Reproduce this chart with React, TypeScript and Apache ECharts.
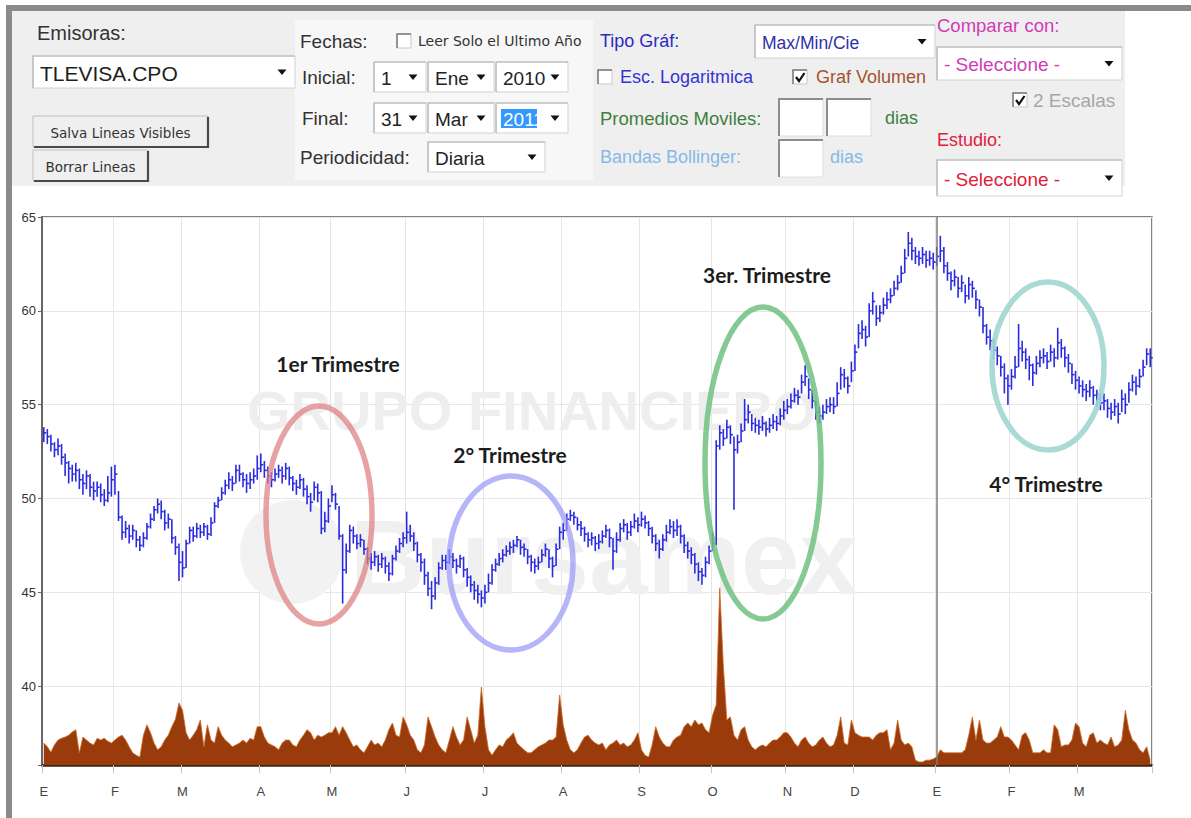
import React, { useEffect, useRef } from "react";
import * as echarts from "echarts";

// ---------- DATA ----------
const monthKeys = ["2010-01","2010-02","2010-03","2010-04","2010-05","2010-06","2010-07","2010-08","2010-09","2010-10","2010-11","2010-12","2011-01","2011-02","2011-03"];
const monthLetters = ["E","F","M","A","M","J","J","A","S","O","N","D","E","F","M"];
const tradingDays = [20,19,22,20,21,22,22,22,20,21,19,23,21,19,21];

const closes = [
  53.5,53.3,52.9,52.6,52.8,52.2,51.9,51.6,51.3,51.5,51.0,50.8,51.2,50.6,50.4,50.6,50.2,49.9,50.3,51.0,
  51.3,49.0,48.2,48.4,48.0,48.3,47.8,47.5,47.9,48.5,48.9,49.4,49.7,49.3,48.7,48.9,47.9,47.4,46.6,
  46.3,47.6,48.3,48.0,48.4,48.2,48.5,48.1,48.7,49.6,49.9,50.3,50.7,51.0,50.8,51.5,51.3,51.0,50.8,51.0,51.2,51.6,
  51.8,51.5,51.2,51.0,51.3,51.5,51.2,51.6,51.1,50.8,50.6,51.0,50.5,50.1,49.8,50.6,50.3,48.4,48.8,49.6,
  50.2,49.7,48.0,46.2,47.2,48.3,48.0,47.6,47.8,47.3,46.8,46.6,46.9,46.5,46.8,46.4,46.0,46.8,47.2,47.6,47.9,
  48.2,48.0,47.6,47.0,46.6,45.9,45.2,44.8,45.5,46.3,46.7,46.6,46.9,46.7,46.4,46.8,46.2,45.8,45.4,45.1,44.9,44.7,
  45.0,45.5,46.2,46.5,46.8,47.0,47.2,47.4,47.5,47.8,47.4,47.3,46.9,46.6,46.4,46.6,47.0,47.3,46.8,46.4,47.3,48.2,
  48.3,48.9,49.1,49.0,48.6,48.4,48.1,47.8,47.9,47.6,47.7,48.0,48.3,47.9,47.2,47.8,48.4,48.6,48.2,48.5,48.8,48.6,
  48.9,48.7,48.4,48.0,47.6,47.3,47.8,48.2,48.5,48.3,48.5,48.0,47.5,47.2,47.0,46.5,46.1,45.9,46.6,47.2,
  47.6,52.8,53.5,53.2,53.8,53.4,52.6,53.0,53.6,54.2,54.6,54.0,53.9,53.8,54.0,53.7,53.9,54.1,54.0,54.4,54.7,
  54.9,55.2,55.5,55.4,56.2,56.5,55.8,55.2,54.6,54.4,54.6,54.9,55.0,54.9,55.6,56.6,56.4,56.0,56.8,
  57.8,58.8,59.0,58.6,60.0,60.5,59.6,59.9,60.3,60.6,60.8,61.2,61.5,62.0,62.8,63.6,63.2,62.9,62.8,63.0,62.7,62.8,62.6,
  62.9,63.2,62.4,62.0,61.6,61.8,61.2,61.5,60.8,61.4,61.2,60.6,60.2,59.2,58.6,58.4,57.9,57.6,57.0,56.4,56.0,
  56.5,57.0,58.0,57.8,57.4,57.1,56.7,57.2,57.5,57.6,57.3,57.8,57.5,58.3,58.0,57.5,57.2,56.6,56.3,
  56.0,55.8,55.7,55.9,55.5,55.3,55.1,55.2,54.8,54.6,54.9,54.5,55.3,55.0,55.8,56.2,56.0,56.5,57.0,57.7,57.5
];

const highs = [
  53.8,53.7,53.4,53.0,53.2,52.9,52.4,52.0,51.8,51.9,51.6,51.3,51.5,51.3,50.9,50.9,50.8,50.5,51.2,51.7,
  51.8,50.4,49.1,48.8,48.6,48.6,48.3,48.0,48.2,48.7,49.2,49.6,50.0,49.9,49.4,49.2,48.9,48.0,47.6,
  47.2,47.8,48.5,48.5,48.7,48.6,48.7,48.6,49.0,49.8,50.1,50.6,51.0,51.4,51.2,51.8,51.8,51.4,51.3,51.4,51.6,52.3,
  52.4,52.0,51.7,51.4,51.6,51.8,51.7,51.9,51.7,51.2,51.0,51.3,51.1,50.7,50.3,50.9,50.8,50.4,49.3,50.0,
  50.7,50.3,49.6,48.1,47.6,48.6,48.5,48.1,48.1,47.8,47.4,47.1,47.2,47.0,47.1,46.9,46.6,47.0,47.5,47.9,48.2,
  49.3,48.6,48.2,47.7,47.1,46.8,46.1,45.6,45.8,46.6,47.0,47.0,47.3,47.1,46.8,47.0,46.9,46.3,45.9,45.6,45.4,45.1,
  45.4,46.0,46.5,46.8,47.1,47.3,47.5,47.7,47.8,48.0,47.8,47.6,47.3,47.0,46.8,46.9,47.3,47.6,47.3,46.9,47.6,48.5,
  48.7,49.2,49.4,49.3,49.0,48.8,48.5,48.2,48.2,48.0,48.1,48.3,48.6,48.4,47.9,48.2,48.7,48.9,48.7,48.8,49.2,49.0,
  49.3,49.1,48.8,48.5,48.1,47.8,48.1,48.6,48.9,48.8,48.9,48.6,48.1,47.7,47.4,47.1,46.6,46.3,46.9,47.5,
  48.2,53.1,53.9,53.7,54.2,53.9,53.3,53.4,54.0,55.3,55.0,54.5,54.3,54.2,54.4,54.1,54.3,54.5,54.4,54.8,55.2,
  55.3,55.6,55.9,55.8,56.6,57.1,56.4,55.8,55.2,54.9,55.0,55.3,55.4,55.4,56.2,57.0,56.9,56.5,57.3,
  58.2,59.3,59.5,59.2,60.4,61.0,60.3,60.3,60.7,61.0,61.2,61.6,61.9,62.4,63.3,64.2,63.9,63.4,63.2,63.4,63.2,63.2,63.1,
  63.4,64.0,63.4,62.6,62.1,62.2,61.8,61.9,61.4,61.8,61.6,61.1,60.6,60.2,59.3,59.0,58.5,58.1,57.6,57.2,56.6,
  56.9,57.6,59.3,58.4,58.0,57.6,57.2,57.6,57.9,58.0,57.8,58.2,58.0,59.1,58.5,58.1,57.7,57.2,56.8,
  56.5,56.3,56.1,56.3,56.0,55.8,55.6,55.6,55.3,55.1,55.3,55.1,55.8,55.6,56.2,56.6,56.5,56.9,57.4,58.0,58.0
];

const lows = [
  53.0,52.9,52.5,52.2,52.3,51.8,51.2,50.8,50.9,50.9,50.5,50.2,50.5,50.1,49.9,50.1,49.8,49.6,49.8,50.1,
  50.2,48.8,47.8,47.9,47.6,47.8,47.4,47.2,47.4,47.8,48.4,48.8,49.2,48.9,48.3,48.4,47.6,47.0,45.6,
  45.8,46.3,47.6,47.7,47.9,47.9,48.0,47.8,48.0,48.7,49.5,49.9,50.2,50.5,50.4,50.8,50.9,50.6,50.3,50.5,50.8,51.0,
  51.4,51.1,50.8,50.6,50.9,51.1,50.8,51.0,50.7,50.4,50.2,50.5,50.1,49.7,49.3,49.9,49.8,48.1,48.2,48.7,
  49.8,49.4,47.8,44.4,46.0,47.1,47.6,47.3,47.4,47.0,46.5,46.2,46.4,46.1,46.3,46.0,45.6,45.9,46.7,47.1,47.4,
  47.6,47.7,47.2,46.6,46.1,45.4,44.8,44.1,44.6,45.4,46.2,46.2,46.5,46.3,46.0,46.3,45.8,45.3,45.0,44.6,44.4,44.2,
  44.4,45.0,45.4,46.1,46.4,46.6,46.9,47.0,47.1,47.4,47.0,46.9,46.5,46.1,46.0,46.2,46.6,46.9,46.3,45.8,46.4,47.3,
  47.8,48.3,48.8,48.6,48.3,48.0,47.7,47.4,47.5,47.2,47.3,47.6,47.9,47.4,46.2,47.1,47.7,48.2,47.8,48.0,48.4,48.2,
  48.5,48.4,48.0,47.6,47.2,46.8,47.2,47.7,48.1,47.9,48.0,47.6,47.1,46.8,46.5,46.0,45.6,45.4,45.8,46.5,
  47.2,47.5,52.6,52.8,53.2,52.9,49.4,52.4,53.0,53.6,54.0,53.6,53.5,53.4,53.6,53.3,53.5,53.7,53.6,53.9,54.2,
  54.5,54.8,55.1,55.0,55.6,56.0,55.3,54.8,54.2,54.0,54.2,54.5,54.6,54.5,54.9,55.8,55.9,55.6,56.2,
  56.8,58.0,58.5,58.1,58.6,59.8,59.2,59.4,59.8,60.1,60.4,60.8,61.1,61.5,62.0,62.9,62.7,62.5,62.4,62.5,62.3,62.4,62.2,
  62.4,62.6,62.0,61.6,61.1,61.3,60.7,61.0,60.4,60.6,60.7,60.1,59.7,58.8,58.2,57.9,57.4,57.1,56.5,55.6,55.0,
  55.8,56.4,57.0,57.3,56.9,56.3,56.0,56.6,57.0,57.2,56.9,57.3,57.0,57.4,57.5,57.0,56.7,56.1,55.8,
  55.6,55.4,55.2,55.4,55.0,54.9,54.7,54.7,54.3,54.2,54.4,54.0,54.6,54.5,55.1,55.7,55.5,55.9,56.5,57.1,57.0
];

// volume, millions of shares
const volumes = [
  3.6,3.0,2.1,3.3,4.1,4.4,4.6,4.9,5.4,5.8,2.0,4.6,4.1,3.6,3.3,4.4,4.1,4.4,3.9,3.6,
  4.1,4.6,4.9,4.1,3.0,2.0,1.6,1.3,4.9,6.6,5.3,3.6,2.5,3.0,4.1,4.9,6.3,7.5,10.2,
  9.0,5.3,4.1,4.9,5.8,7.4,3.0,6.6,4.1,3.6,6.3,4.9,4.1,3.6,3.0,3.3,3.6,4.1,3.6,4.4,4.1,6.3,
  6.3,4.6,3.6,3.3,3.0,2.5,3.6,4.1,4.1,3.3,3.0,4.1,4.9,5.8,5.3,4.1,4.9,4.6,4.9,5.3,
  5.3,6.3,4.9,6.3,5.3,4.1,3.0,3.3,2.5,2.0,3.0,4.1,3.3,3.6,3.0,4.1,5.8,6.9,4.9,4.6,7.9,
  6.6,4.9,4.1,2.5,2.0,3.3,7.9,6.3,4.6,3.3,2.5,2.0,4.1,6.3,4.6,3.3,4.1,7.9,5.8,3.6,4.9,12.8,
  6.3,2.5,1.6,2.5,3.3,3.0,4.1,4.6,5.3,3.6,3.0,2.5,2.0,2.0,2.5,3.0,3.3,3.6,4.1,4.1,4.6,11.5,
  6.6,4.1,2.5,2.0,2.5,3.6,4.6,4.9,4.1,3.6,3.3,3.6,2.5,3.3,3.6,4.1,3.3,3.6,3.0,3.3,4.1,5.3,
  2.5,1.6,1.3,3.3,6.3,4.6,3.6,3.0,3.0,4.1,4.6,4.9,6.3,6.9,6.3,7.4,6.6,6.9,5.8,5.3,
  8.2,9.9,29.1,16.4,7.4,7.9,4.9,4.1,5.8,6.3,4.1,3.0,2.5,3.0,3.3,3.0,3.6,4.1,4.1,4.6,5.3,
  5.3,4.6,3.6,3.0,4.1,4.6,3.6,3.0,3.3,4.1,4.6,3.6,3.0,3.3,4.9,7.9,3.6,3.3,7.4,
  5.3,4.9,4.6,4.6,4.6,4.1,4.9,5.3,5.3,5.8,2.5,3.6,7.4,4.1,3.3,3.6,3.0,0.8,0.5,0.5,0.8,0.8,1.0,
  1.3,2.5,2.0,2.0,2.0,2.0,2.0,2.0,2.5,4.9,7.9,4.1,7.4,4.1,3.6,3.6,4.1,4.6,6.3,4.6,4.6,
  4.1,3.3,2.5,4.9,5.3,4.1,2.0,2.0,2.0,2.5,2.0,2.0,6.6,5.8,3.0,3.3,3.3,4.1,6.9,
  6.3,3.6,3.0,4.9,5.3,3.6,4.1,3.6,3.3,4.6,3.0,3.3,4.1,9.0,5.8,4.1,3.6,2.5,2.0,3.0,0.8
];

const quarterLabels = ["1er Trimestre", "2° Trimestre", "3er. Trimestre", "4° Trimestre"];

// ---------- HELPERS (layout of the control panel) ----------
const ARIAL = '"Liberation Sans", Arial, sans-serif';
const VERD = '"DejaVu Sans", Verdana, sans-serif';
const LATO = 'Lato, "Open Sans", sans-serif';

function txt(x: number, y: number, text: string, size: number, color = "#333", family = ARIAL, extra: any = {}) {
  return {
    type: "text", x, y, z: 20,
    style: {
      text, fill: color, fontSize: size, fontFamily: family,
      align: extra.align || "left", textAlign: extra.align || "left",
      verticalAlign: "middle", textVerticalAlign: "middle",
      fontWeight: extra.weight || "normal",
    },
  };
}
function rect(x: number, y: number, w: number, h: number, fill: string, stroke?: string, lw = 1, z = 10) {
  return { type: "rect", z, shape: { x, y, width: w, height: h }, style: { fill, stroke: stroke || null, lineWidth: lw } };
}
function pl(points: number[][], stroke: string, lw = 1, z = 12) {
  return { type: "polyline", z, shape: { points }, style: { stroke, lineWidth: lw, fill: null } };
}
function arrow(x: number, y: number) {
  return { type: "polygon", z: 15, shape: { points: [[x - 4.5, y - 2.5], [x + 4.5, y - 2.5], [x, y + 3]] }, style: { fill: "#111" } };
}
function dropdown(x: number, y: number, w: number, h: number, label: string, color = "#222", size = 19, hl = false) {
  const els: any[] = [
    rect(x, y, w, h, "#ffffff", "#d2d2d2", 1),
    pl([[x, y + h], [x, y], [x + w, y]], "#b4b4b4", 1.2),
  ];
  if (hl) els.push(rect(x + 5, y + 6, 36, h - 11, "#3399ff", undefined, 1, 13));
  els.push(txt(x + 7, y + h / 2 + 1, label, size, hl ? "#ffffff" : color));
  els.push(arrow(x + w - 13, y + h / 2));
  return els;
}
function button(x: number, y: number, w: number, h: number, label: string) {
  return [
    rect(x, y, w, h, "#efefef", "#c0c0c0", 1),
    pl([[x + 1, y + h], [x + w, y + h], [x + w, y + 1]], "#4a4a4a", 2.2),
    txt(x + w / 2, y + h / 2 + 1, label, 13.5, "#333", VERD, { align: "center" }),
  ];
}
function checkbox(x: number, y: number, checked: boolean) {
  const els: any[] = [
    rect(x, y, 14, 14, "#ffffff", "#c8c8c8", 1),
    pl([[x, y + 14], [x, y], [x + 14, y]], "#7a7a7a", 1.5),
  ];
  if (checked) els.push(pl([[x + 3, y + 7], [x + 6, y + 11], [x + 11.5, y + 3]], "#111", 2.2, 14));
  return els;
}
function inputBox(x: number, y: number, w: number, h: number) {
  return [
    rect(x, y, w, h, "#ffffff", "#dedede", 1),
    pl([[x, y + h], [x, y], [x + w, y]], "#8c8c8c", 2),
  ];
}

export default function App() {
  const ref = useRef<HTMLDivElement>(null);

  useEffect(() => {
    if (!ref.current) return;
    const chart = echarts.init(ref.current, null, { renderer: "svg" });

    const categories: string[] = [];
    const monthStart = new Map<number, string>();
    let idx = 0;
    tradingDays.forEach((n, m) => {
      monthStart.set(idx, monthLetters[m]);
      for (let d = 1; d <= n; d++) {
        categories.push(`${monthKeys[m]}-${d}`);
        idx++;
      }
    });
    const yearBreak = categories[tradingDays.slice(0, 12).reduce((a, b) => a + b, 0)];
    const hlc = categories.map((_, i) => [i, highs[i], lows[i], closes[i]]);

    const panel: any[] = [
      rect(6, 5, 1185, 6, "#8a8a8a", undefined, 1, 5),
      rect(6, 5, 6, 813, "#8a8a8a", undefined, 1, 5),
      rect(12, 11, 1113, 175, "#efefef", undefined, 1, 5),
      rect(295, 20, 298, 160, "#f7f7f7", undefined, 1, 6),
      txt(37, 33, "Emisoras:", 20, "#333"),
      ...dropdown(33, 56, 262, 32, "TLEVISA.CPO", "#1e1e1e", 21),
      ...button(33, 116, 175, 31, "Salva Lineas Visibles"),
      ...button(33, 150, 115, 31, "Borrar Lineas"),
      txt(300, 41, "Fechas:", 19),
      ...checkbox(397, 34, false),
      txt(418, 41, "Leer Solo el Ultimo Año", 14, "#333", VERD),
      txt(302, 77, "Inicial:", 19),
      ...dropdown(374, 62, 52, 30, "1"),
      ...dropdown(428, 62, 66, 30, "Ene"),
      ...dropdown(496, 62, 72, 30, "2010"),
      txt(302, 118, "Final:", 19),
      ...dropdown(374, 103, 52, 30, "31"),
      ...dropdown(428, 103, 66, 30, "Mar"),
      ...dropdown(496, 103, 72, 30, "2011", "#222", 19, true),
      txt(300, 157, "Periodicidad:", 19),
      ...dropdown(428, 142, 117, 30, "Diaria"),
      txt(600, 41, "Tipo Gráf:", 18, "#2b2bc4"),
      ...dropdown(755, 25, 180, 33, "Max/Min/Cie", "#3030a8", 17.5),
      ...checkbox(598, 70, false),
      txt(620, 77, "Esc. Logaritmica", 18, "#3434d4"),
      ...checkbox(793, 70, true),
      txt(816, 77, "Graf Volumen", 18, "#a3532e"),
      txt(600, 118, "Promedios Moviles:", 18.5, "#3f7f3f"),
      ...inputBox(779, 99, 44, 37),
      ...inputBox(827, 99, 44, 37),
      txt(885, 118, "dias", 18, "#3f7f3f"),
      txt(600, 157, "Bandas Bollinger:", 18, "#86b9e6"),
      ...inputBox(779, 140, 44, 37),
      txt(830, 157, "dias", 18, "#86b9e6"),
      txt(937, 25, "Comparar con:", 18.5, "#d03cb8"),
      ...dropdown(937, 47, 185, 33, "- Seleccione -", "#d03cb8", 19),
      ...checkbox(1013, 93, true),
      txt(1033, 100, "2 Escalas", 19, "#a6a6a6"),
      txt(937, 140, "Estudio:", 18, "#e0203a"),
      ...dropdown(937, 160, 185, 36, "- Seleccione -", "#e0203a", 19),
    ];

    const watermark: any[] = [
      { type: "text", x: 247, y: 410, z: 1, style: { text: "GRUPO FINANCIERO", fill: "#eeeeee", fontSize: 56, fontWeight: "bold", fontFamily: ARIAL, verticalAlign: "middle", textVerticalAlign: "middle" } },
      { type: "circle", z: 1, shape: { cx: 292, cy: 552, r: 52 }, style: { fill: "#f2f2f2" } },
      { type: "text", x: 350, y: 557, z: 1, style: { text: "Bursamex", fill: "#f0f0f0", fontSize: 105, fontWeight: "bold", fontFamily: ARIAL, verticalAlign: "middle", textVerticalAlign: "middle" } },
    ];

    const ellipses: any[] = [
      { cx: 319, cy: 515, rx: 53, ry: 109, c: "rgba(222,128,128,0.72)" },
      { cx: 511, cy: 563, rx: 62, ry: 87, c: "rgba(150,150,246,0.7)" },
      { cx: 763, cy: 463, rx: 58, ry: 156, c: "rgba(112,192,128,0.85)" },
      { cx: 1048, cy: 366, rx: 56, ry: 84, c: "rgba(160,214,210,0.9)" },
    ].map((e) => ({ type: "ellipse", z: 30, shape: { cx: e.cx, cy: e.cy, rx: e.rx, ry: e.ry }, style: { fill: "rgba(0,0,0,0)", stroke: e.c, lineWidth: 5.5 } }));

    const labelPos = [[338, 363], [510, 454], [767, 274], [1046, 483]];
    const qLabels = quarterLabels.map((t, i) => ({
      type: "text", x: labelPos[i][0], y: labelPos[i][1], z: 31,
      style: { text: t, fill: "#1c1c1c", fontSize: 21, fontWeight: "bold", fontFamily: LATO, align: "center", textAlign: "center", verticalAlign: "middle", textVerticalAlign: "middle" },
    }));

    const option: any = {
      animation: false,
      backgroundColor: "#ffffff",
      grid: { left: 42, top: 217, right: 39, bottom: 53, show: true, borderColor: "#5a5a5a", borderWidth: 1.5, backgroundColor: "rgba(0,0,0,0)", containLabel: false },
      xAxis: {
        type: "category",
        data: categories,
        boundaryGap: true,
        axisLine: { lineStyle: { color: "#3b2412", width: 2.5 } },
        axisTick: { show: true, interval: (i: number) => monthStart.has(i), length: 8, lineStyle: { color: "#c4c4c4" } },
        axisLabel: {
          interval: (i: number) => monthStart.has(i),
          formatter: (_v: string, i: number) => monthStart.get(i) || "",
          color: "#444", fontSize: 13, fontFamily: ARIAL, margin: 20,
        },
        splitLine: { show: true, interval: (i: number) => monthStart.has(i), lineStyle: { color: "#e6e6e6", width: 1 } },
      },
      yAxis: [
        {
          type: "value", min: 35.8, max: 65, position: "left",
          axisLine: { show: true, lineStyle: { color: "#666", width: 2 } },
          axisTick: { show: true, length: 4, lineStyle: { color: "#666" } },
          axisLabel: { color: "#333", fontSize: 13, fontFamily: ARIAL, margin: 6, formatter: (v: number) => (Math.abs(v % 5) < 1e-9 ? String(v) : "") },
          splitLine: { show: true, lineStyle: { color: "#e6e6e6", width: 1 } },
        },
        { type: "value", min: 0, max: 90, show: false, splitLine: { show: false } },
      ],
      series: [
        {
          type: "line", name: "Volumen", yAxisIndex: 1, data: volumes, symbol: "none", z: 2,
          lineStyle: { color: "#d06a24", width: 0.8 },
          areaStyle: { color: "#993b0b", opacity: 1 },
          markLine: {
            symbol: "none", silent: true, label: { show: false },
            lineStyle: { color: "#7d7d7d", width: 1.5, type: "solid" },
            data: [{ xAxis: yearBreak }],
          },
        },
        {
          type: "custom", name: "TLEVISA.CPO", data: hlc, z: 3,
          encode: { x: 0, y: [1, 2, 3] },
          renderItem: (_p: any, api: any) => {
            const i = api.value(0);
            const hi = api.coord([i, api.value(1)]);
            const lo = api.coord([i, api.value(2)]);
            const cl = api.coord([i, api.value(3)]);
            const w = api.size([1, 0])[0];
            const st = { stroke: "#2a2ae0", lineWidth: 1.6 };
            return {
              type: "group",
              children: [
                { type: "line", shape: { x1: hi[0], y1: hi[1], x2: lo[0], y2: lo[1] }, style: st },
                { type: "line", shape: { x1: cl[0], y1: cl[1], x2: cl[0] + w * 0.7, y2: cl[1] }, style: st },
              ],
            };
          },
        },
      ],
      graphic: [...panel, ...watermark, ...ellipses, ...qLabels],
    };

    chart.setOption(option);
    return () => chart.dispose();
  }, []);

  return <div ref={ref} style={{ position: "absolute", left: 0, top: 0, width: 1191, height: 818 }} />;
}
